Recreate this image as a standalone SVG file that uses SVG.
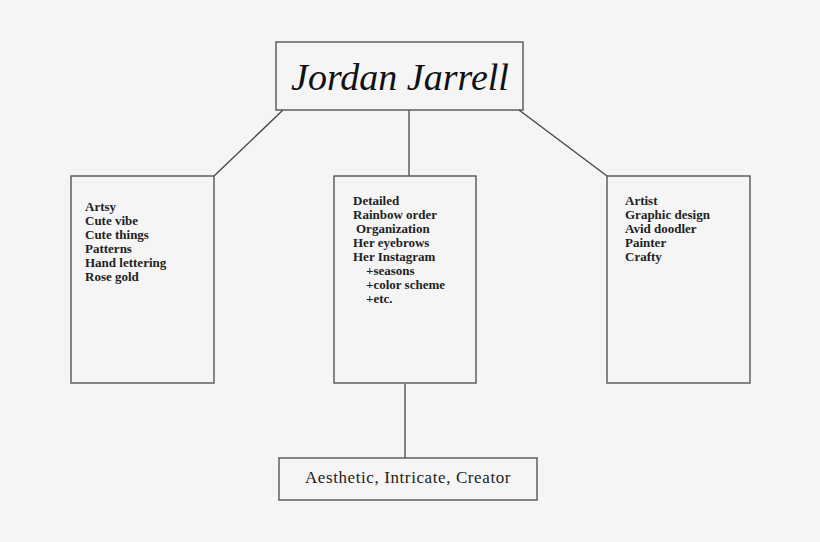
<svg xmlns="http://www.w3.org/2000/svg" width="820" height="542" viewBox="0 0 820 542">
<style>
.box{fill:none;stroke:#555;stroke-width:1.4}
.ln{fill:none;stroke:#444;stroke-width:1.3}
.t{font-family:"Liberation Serif","DejaVu Serif",serif;font-size:13px;font-weight:bold;fill:#222}
.b{font-family:"Liberation Serif","DejaVu Serif",serif;font-size:17px;letter-spacing:0.6px;fill:#222}
.title{font-family:"Liberation Serif",serif;font-style:italic;font-size:38px;fill:#111}
</style>
<rect width="820" height="542" fill="#f5f5f5"/>
<g id="connectors">
<line class="ln" x1="283" y1="110" x2="214" y2="176"/>
<line class="ln" x1="409" y1="110" x2="409" y2="176"/>
<line class="ln" x1="519" y1="110" x2="607" y2="176"/>
<line class="ln" x1="405" y1="384" x2="405" y2="458"/>
</g>
<g id="title">
<rect class="box" x="276" y="42" width="247" height="68"/>
<text class="title" x="400" y="90" text-anchor="middle">Jordan Jarrell</text>
</g>
<g id="left">
<rect class="box" x="71" y="176" width="143" height="207"/>
<text class="t" x="85" y="211">Artsy</text>
<text class="t" x="85" y="225">Cute vibe</text>
<text class="t" x="85" y="239">Cute things</text>
<text class="t" x="85" y="253">Patterns</text>
<text class="t" x="85" y="267">Hand lettering</text>
<text class="t" x="85" y="281">Rose gold</text>
</g>
<g id="middle">
<rect class="box" x="334" y="176" width="142" height="207"/>
<text class="t" x="353" y="205">Detailed</text>
<text class="t" x="353" y="219">Rainbow order</text>
<text class="t" x="356" y="233">Organization</text>
<text class="t" x="353" y="247">Her eyebrows</text>
<text class="t" x="353" y="261">Her Instagram</text>
<text class="t" x="366" y="275">+seasons</text>
<text class="t" x="366" y="289">+color scheme</text>
<text class="t" x="366" y="303">+etc.</text>
</g>
<g id="right">
<rect class="box" x="607" y="176" width="143" height="207"/>
<text class="t" x="625" y="205">Artist</text>
<text class="t" x="625" y="219">Graphic design</text>
<text class="t" x="625" y="233">Avid doodler</text>
<text class="t" x="625" y="247">Painter</text>
<text class="t" x="625" y="261">Crafty</text>
</g>
<g id="bottom">
<rect class="box" x="279" y="458" width="258" height="42"/>
<text class="b" x="408" y="483" text-anchor="middle">Aesthetic, Intricate, Creator</text>
</g>
</svg>
